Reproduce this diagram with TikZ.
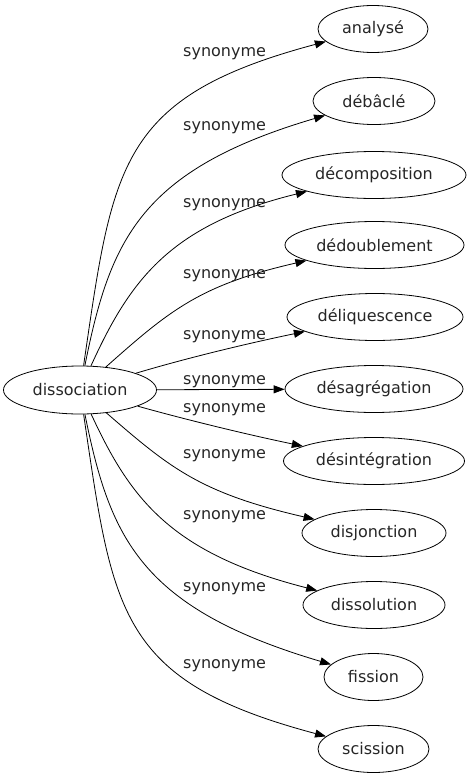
\documentclass[tikz,border=0pt]{standalone}
\usepackage{fontspec}
\setmainfont{DejaVu Sans}
\usetikzlibrary{shapes.geometric,arrows.meta}
\begin{document}
\begin{tikzpicture}[x=1pt,y=-1pt,
  every node/.style={font=\fontsize{16}{19}\selectfont,text=black!85},
  term/.style={ellipse,draw,line width=0.8pt,inner sep=0pt,minimum height=47pt},
  lbl/.style={anchor=base west,inner sep=0pt},
  edge/.style={line width=0.8pt,-{Triangle[length=11pt,width=8pt]}}]
\useasboundingbox (0,0) rectangle (471,779);
\node[term,minimum width=153pt,minimum height=48pt] (d) at (80,390) {dissociation};
\node[term,minimum width=110pt] (t1) at (373,29) {analysé};
\node[term,minimum width=122pt] (t2) at (374,101) {débâclé};
\node[term,minimum width=184pt] (t3) at (374,175) {décomposition};
\node[term,minimum width=179pt] (t4) at (374.5,245) {dédoublement};
\node[term,minimum width=176pt] (t5) at (375,317) {déliquescence};
\node[term,minimum width=178pt] (t6) at (374,389) {désagrégation};
\node[term,minimum width=181pt] (t7) at (374,461) {désintégration};
\node[term,minimum width=144pt] (t8) at (374,533) {disjonction};
\node[term,minimum width=142pt] (t9) at (374,605) {dissolution};
\node[term,minimum width=99pt] (t10) at (373.5,677) {fission};
\node[term,minimum width=111pt] (t11) at (373.5,749) {scission};
\draw[edge] (d) .. controls (113,165) and (118,97) .. (t1);
\draw[edge] (d) .. controls (110,240) and (140,170) .. (t2);
\draw[edge] (d) .. controls (130,280) and (170,225) .. (t3);
\draw[edge] (d) .. controls (170,310) and (200,285) .. (t4);
\draw[edge] (d) .. controls (180,360) and (240,345) .. (t5);
\draw[edge] (d) -- (t6);
\draw[edge] (d) .. controls (180,418) and (240,433) .. (t7);
\draw[edge] (d) .. controls (170,468) and (200,493) .. (t8);
\draw[edge] (d) .. controls (130,498) and (170,553) .. (t9);
\draw[edge] (d) .. controls (110,538) and (140,608) .. (t10);
\draw[edge] (d) .. controls (113,613) and (118,681) .. (t11);
\node[lbl] (l1) at (183,56) {synonyme};
\node[lbl] (l2) at (183,130) {synonyme};
\node[lbl] (l3) at (183,207) {synonyme};
\node[lbl] (l4) at (183,278) {synonyme};
\node[lbl] (l5) at (183,339) {synonyme};
\node[lbl] (l6) at (183,384) {synonyme};
\node[lbl] (l7) at (183,412) {synonyme};
\node[lbl] (l8) at (183,458) {synonyme};
\node[lbl] (l9) at (183,519) {synonyme};
\node[lbl] (l10) at (183,591) {synonyme};
\node[lbl] (l11) at (183,668) {synonyme};
\end{tikzpicture}
\end{document}
